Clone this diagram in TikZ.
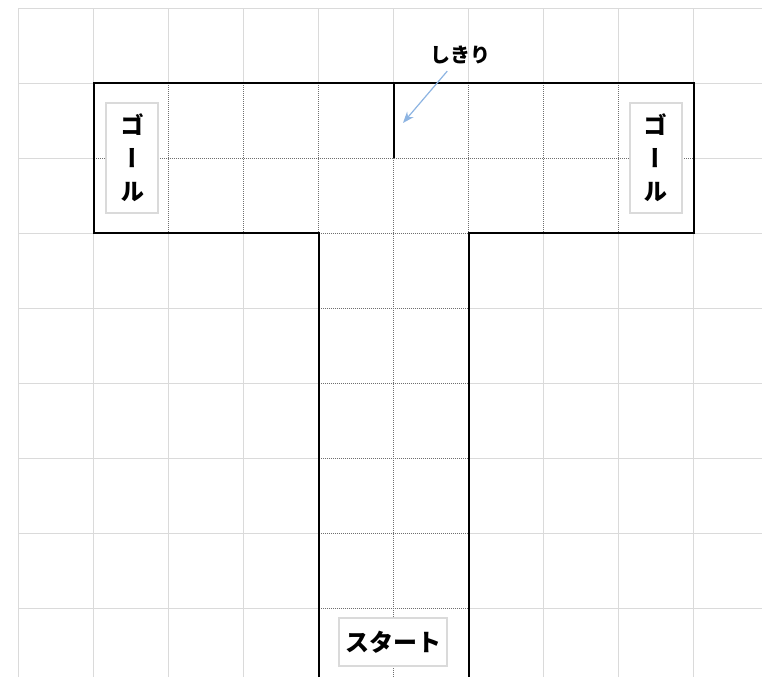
\documentclass[tikz,border=0pt]{standalone}
\usepackage{fontspec}
\newfontfamily\jpfont{Noto Sans CJK JP}
\newfontfamily\jpvfont[RawFeature=+vert]{Noto Sans CJK JP}
\usetikzlibrary{arrows.meta}
\definecolor{gridgray}{HTML}{DADADA}
\definecolor{dotgray}{HTML}{6F6F6F}
\definecolor{arrowblue}{HTML}{8DB4E2}

\begin{document}
\begin{tikzpicture}[x=37.5pt,y=-37.5pt,>=Stealth,
  sign/.style={draw=gridgray,fill=white,line width=0.6pt,inner sep=0pt},
  cell/.style={dotgray,line width=0.5pt,dash pattern=on 0.5pt off 0.5pt}]
  \useasboundingbox (-0.2533,-0.1067) rectangle (9.9067,8.92);
  % background grid
  \foreach \i in {0,...,9} \draw[gridgray,line width=0.5pt] (\i,0) -- (\i,8.92);
  \foreach \j in {0,...,8} \draw[gridgray,line width=0.5pt] (0,\j) -- (9.9067,\j);
  % course
  \fill[white] (1,1) rectangle (9,3) (4,3) rectangle (6,8.92);
  \foreach \i in {2,3,4,6,7,8} \draw[cell] (\i,1) -- (\i,3);
  \draw[cell] (1,2) -- (9,2);
  \draw[cell] (5,2) -- (5,8.92);
  \foreach \j in {3,...,8} \draw[cell] (4,\j) -- (6,\j);
  \draw[line width=1pt] (4,8.92) -- (4,3) -- (1,3) -- (1,1) -- (9,1) -- (9,3) -- (6,3) -- (6,8.92);
  \draw[line width=1.2pt] (5,1) -- (5,2);
  % signs
  \node[sign,minimum width=26pt,minimum height=55pt,align=center,
    font=\jpvfont\bfseries\fontsize{12}{16.5}\selectfont] (goalL) at (1.507,2) {ゴ\\ー\\ル};
  \node[sign,minimum width=26pt,minimum height=55pt,align=center,
    font=\jpvfont\bfseries\fontsize{12}{16.5}\selectfont] (goalR) at (8.493,2) {ゴ\\ー\\ル};
  \node[sign,minimum width=54pt,minimum height=24pt,
    font=\jpfont\bfseries\fontsize{12}{14}\selectfont] (start) at (4.987,8.453) {スタート};
  % wall label
  \node[font=\jpfont\bfseries\fontsize{10}{12}\selectfont] (shikiri) at (5.893,0.627) {しきり};
  \coordinate (wall) at (5.12,1.533);
  \draw[->,arrowblue,line width=0.6pt] (shikiri) -- (wall);
\end{tikzpicture}
\end{document}
